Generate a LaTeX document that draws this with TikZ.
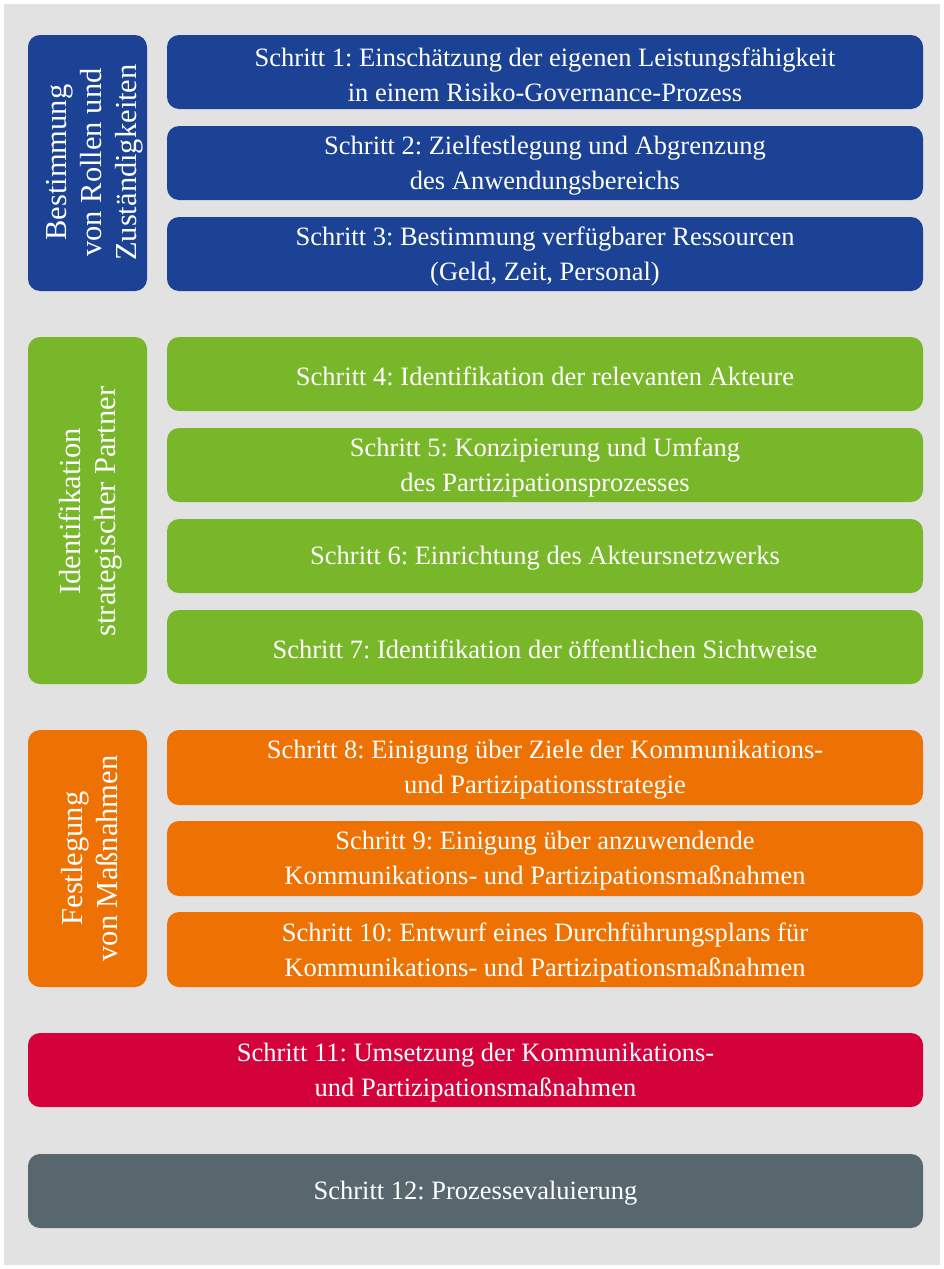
\documentclass[tikz,border=0pt]{standalone}
\usepackage{fontspec}
\setmainfont{Liberation Serif}
\frenchspacing
\definecolor{cblue}{HTML}{1B4294}
\definecolor{cgreen}{HTML}{78B72A}
\definecolor{corange}{HTML}{EE7203}
\definecolor{cred}{HTML}{D3023B}
\definecolor{cgray}{HTML}{58676E}
\definecolor{cbg}{HTML}{E2E2E2}
\tikzset{
  boxshape/.style={fill=#1, draw=none, rounded corners=12pt, inner sep=0pt},
  steptext/.style={text=white, align=center, font=\fontsize{26.5}{35}\selectfont, inner sep=0pt, yshift=-2.5pt},
  phaselabel/.style={text=white, rotate=90, align=center, font=\fontsize{30.5}{35}\selectfont, inner sep=0pt},
}
% #1 name, #2 colour, #3 x, #4 y, #5 width, #6 height, #7 text
\newcommand{\mkstep}[7]{%
  \node[boxshape=#2, minimum width=#5pt, minimum height=#6pt] (#1) at (#3,#4) {};
  \node[steptext] (#1t) at (#1.center) {#7};
}
\begin{document}
\begin{tikzpicture}[x=1pt,y=-1pt]
\useasboundingbox (0,0) rectangle (944,1269);
\fill[white] (0,0) rectangle (944,1269);
\fill[cbg] (4,4) rectangle (940,1265);
% phase boxes
\node[boxshape=cblue, minimum width=119pt, minimum height=256pt] (p1) at (87.5,163) {};
\node[phaselabel] (p1t) at (95,162.5) {Bestimmung\\von Rollen und\\Zuständigkeiten};
\node[boxshape=cgreen, minimum width=119pt, minimum height=347pt] (p2) at (87.5,510.5) {};
\node[phaselabel] (p2t) at (91,511.5) {Identifikation\\strategischer Partner};
\node[boxshape=corange, minimum width=119pt, minimum height=257pt] (p3) at (87.5,858.5) {};
\node[phaselabel] (p3t) at (90,858.5) {Festlegung\\von Maßnahmen};
% step boxes
\mkstep{s1}{cblue}{545}{72}{756}{74}{Schritt 1: Einschätzung der eigenen Leistungsfähigkeit\\in einem Risiko-Governance-Prozess}
\mkstep{s2}{cblue}{545}{163}{756}{74}{Schritt 2: Zielfestlegung und Abgrenzung\\des Anwendungsbereichs}
\mkstep{s3}{cblue}{545}{254}{756}{74}{Schritt 3: Bestimmung verfügbarer Ressourcen\\(Geld, Zeit, Personal)}
\mkstep{s4}{cgreen}{545}{374}{756}{74}{Schritt 4: Identifikation der relevanten Akteure}
\mkstep{s5}{cgreen}{545}{465}{756}{74}{Schritt 5: Konzipierung und Umfang\\des Partizipationsprozesses}
\mkstep{s6}{cgreen}{545}{556}{756}{74}{Schritt 6: Einrichtung des Akteursnetzwerks}
\mkstep{s7}{cgreen}{545}{647}{756}{74}{Schritt 7: Identifikation der öffentlichen Sichtweise}
\mkstep{s8}{corange}{545}{767.5}{756}{75}{Schritt 8: Einigung über Ziele der Kommunikations-\\und Partizipationsstrategie}
\mkstep{s9}{corange}{545}{858.5}{756}{75}{Schritt 9: Einigung über anzuwendende\\Kommunikations- und Partizipationsmaßnahmen}
\mkstep{s10}{corange}{545}{949.5}{756}{75}{Schritt 10: Entwurf eines Durchführungsplans für\\Kommunikations- und Partizipationsmaßnahmen}
\mkstep{s11}{cred}{475.5}{1070}{895}{74}{Schritt 11: Umsetzung der Kommunikations-\\und Partizipationsmaßnahmen}
\mkstep{s12}{cgray}{475.5}{1191}{895}{74}{Schritt 12: Prozessevaluierung}
\end{tikzpicture}
\end{document}
